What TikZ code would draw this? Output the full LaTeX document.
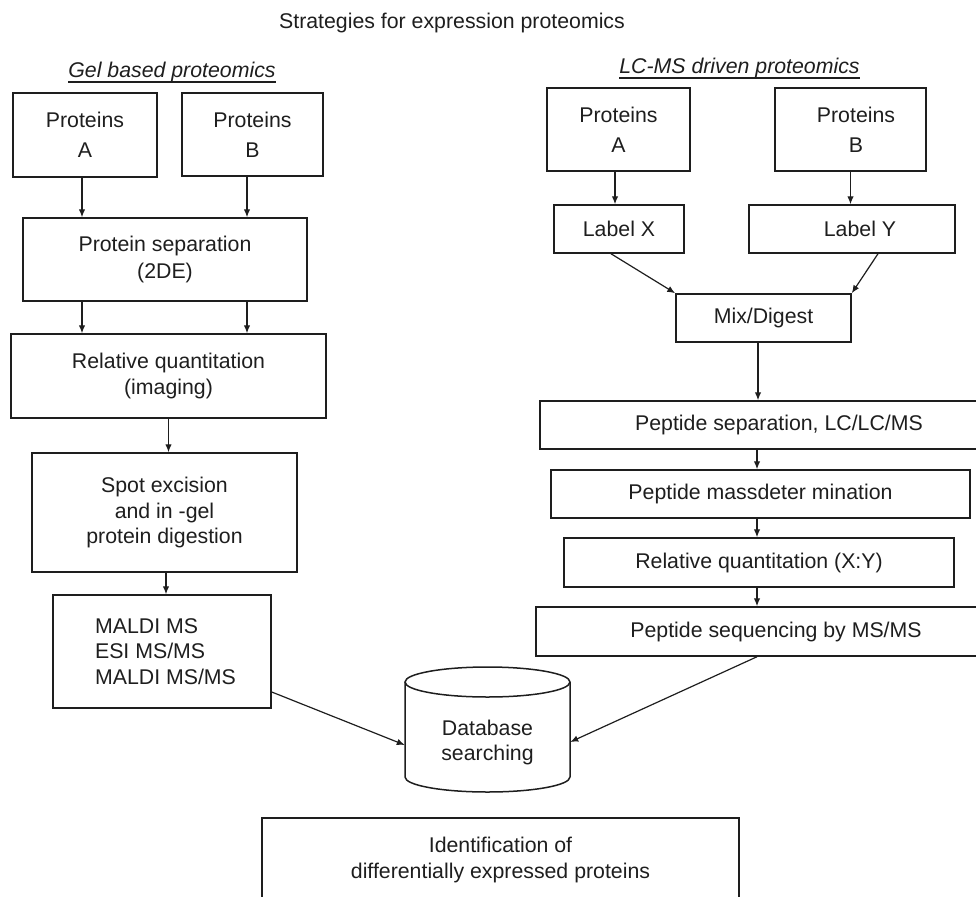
\documentclass[tikz,border=0pt]{standalone}
\usepackage{fontspec}
\setmainfont{Liberation Sans}
\usetikzlibrary{arrows.meta,calc}
\definecolor{ink}{HTML}{1E1E1E}
\newcommand\mainsize{\fontsize{21.3}{25.5}\selectfont}
\begin{document}
\begin{tikzpicture}[x=1pt,y=-1pt,
  box/.style={draw=ink, line width=1.5pt, inner sep=0pt, align=center, font=\mainsize, text=ink},
  arr/.style={draw=ink, line width=1.2pt, -{Latex[length=8pt,width=6.5pt]}},
  lbl/.style={inner sep=0pt, font=\mainsize, text=ink, anchor=base}]
\useasboundingbox (0,0) rectangle (976,896);
\clip (0,0) rectangle (976,896);

% titles
\node[lbl] (title) at (452,28.5) {Strategies for expression proteomics};
\node[lbl, font=\mainsize\itshape] (gelT) at (172,78) {Gel based proteomics};
\node[lbl, font=\mainsize\itshape] (lcT) at (739.5,73.5) {LC-MS driven proteomics};
\draw[ink, line width=1.3pt] ([yshift=-4pt]gelT.base west) -- ([yshift=-4pt]gelT.base east);
\draw[ink, line width=1.3pt] ([yshift=-4.5pt]lcT.base west) -- ([yshift=-4.5pt]lcT.base east);

% gel based column
\node[box, minimum width=144, minimum height=84] (gA) at (85,135) {Proteins\\[4.5pt]A};
\node[box, minimum width=141, minimum height=83] (gB) at (252.5,134.5) {Proteins\\[4.5pt]B};
\node[box, minimum width=284, minimum height=83] (gSep) at (165,259.5) {Protein separation\\[1.5pt](2DE)};
\node[box, minimum width=315, minimum height=84] (gQuant) at (168.5,376) {Relative quantitation\\(imaging)};
\node[box, minimum width=265, minimum height=119] (gSpot) at (164.5,512.5) {Spot excision\\and in -gel\\protein digestion};
\node[box, minimum width=218, minimum height=113, align=left] (gMS) at (162,651.5) {\hspace*{7pt}MALDI MS\\\hspace*{7pt}ESI MS/MS\\\hspace*{7pt}MALDI MS/MS};

% LC-MS column
\node[box, minimum width=143, minimum height=83] (lA) at (618.5,129.5) {Proteins\\[4.5pt]A};
\node[box, minimum width=151, minimum height=83] (lB) at (850.5,129.5) {\hspace*{11pt}Proteins\\[4.5pt]\hspace*{11pt}B};
\node[box, minimum width=130, minimum height=48] (lX) at (619,229) {Label X};
\node[box, minimum width=206, minimum height=48] (lY) at (852,229) {\hspace*{16pt}Label Y};
\node[box, minimum width=175, minimum height=48] (mix) at (763.5,318) {Mix/Digest};
\node[box, minimum width=478, minimum height=48] (pSep) at (779,425) {Peptide separation, LC/LC/MS};
\node[box, minimum width=419, minimum height=48] (pMass) at (760.5,494) {Peptide massdeter mination};
\node[box, minimum width=390, minimum height=49] (pQuant) at (759,562.5) {Relative quantitation (X:Y)};
\node[box, minimum width=480, minimum height=49] (pSeq) at (776,631.5) {Peptide sequencing by MS/MS};

% database cylinder
\node[inner sep=0pt, minimum width=165, align=center, font=\mainsize, text=ink] (db) at (487.5,742.5) {Database\\searching};
\draw[ink, line width=1.5pt] (405,682) -- (405,777) arc[start angle=180, end angle=0, x radius=82.5, y radius=15] -- (570,682);
\draw[ink, line width=1.5pt] (487.5,682) ellipse [x radius=82.5, y radius=15];

% result
\node[box, minimum width=477, minimum height=84] (ident) at (500.5,860) {Identification of\\differentially expressed proteins};

% connectors, gel side
\draw[arr] ([xshift=-3pt]gA.south) -- ([xshift=-3pt]gA.south |- gSep.north);
\draw[arr] ([xshift=-5.5pt]gB.south) -- ([xshift=-5.5pt]gB.south |- gSep.north);
\draw[arr] ([xshift=-83pt]gSep.south) -- ([xshift=-83pt]gSep.south |- gQuant.north);
\draw[arr] ([xshift=82pt]gSep.south) -- ([xshift=82pt]gSep.south |- gQuant.north);
\draw[arr] (gQuant.south) -- (gQuant.south |- gSpot.north);
\draw[arr] ([xshift=1.5pt]gSpot.south) -- ([xshift=1.5pt]gSpot.south |- gMS.north);
\draw[arr] ([yshift=-40.5pt]gMS.east) -- ([yshift=-2.5pt]db.west);

% connectors, LC-MS side
\draw[arr] ([xshift=-3.5pt]lA.south) -- ([xshift=-3.5pt]lA.south |- lX.north);
\draw[arr] (lB.south) -- (lB.south |- lY.north);
\draw[arr] ([xshift=-8pt]lX.south) -- (mix.north west);
\draw[arr] ([xshift=26pt]lY.south) -- (mix.north east);
\draw[arr] ([xshift=-5.5pt]mix.south) -- ([xshift=-5.5pt]mix.south |- pSep.north);
\draw[arr] ([xshift=-22pt]pSep.south) -- ([xshift=-22pt]pSep.south |- pMass.north);
\draw[arr] ([xshift=-3.5pt]pMass.south) -- ([xshift=-3.5pt]pMass.south |- pQuant.north);
\draw[arr] ([xshift=-2pt]pQuant.south) -- ([xshift=-2pt]pQuant.south |- pSeq.north);
\draw[arr] ([xshift=-19pt]pSeq.south) -- ([yshift=0.5pt]db.east);
\end{tikzpicture}
\end{document}
